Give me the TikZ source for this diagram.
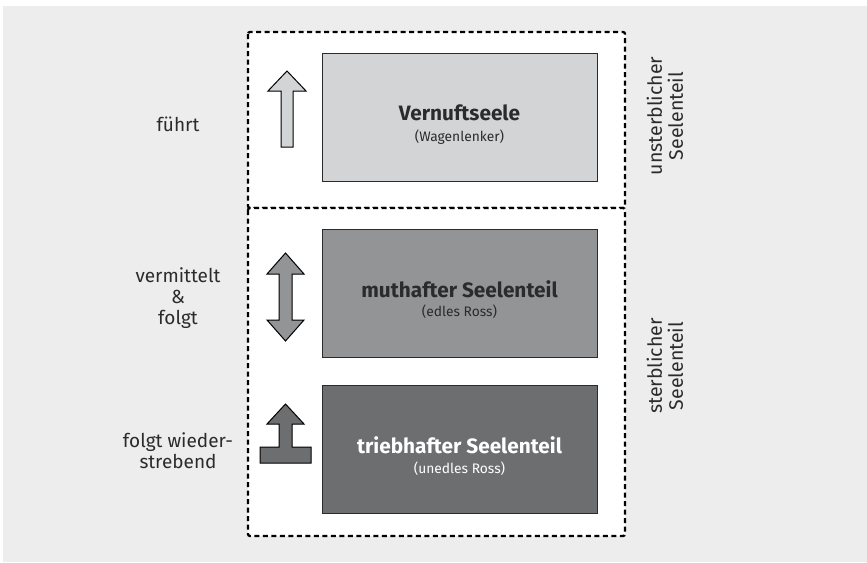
\documentclass[tikz,border=0pt]{standalone}
\usepackage{fontspec}
\setmainfont{Fira Sans}
\definecolor{bgc}{HTML}{EDEDED}
\definecolor{cone}{HTML}{D3D4D5}
\definecolor{ctwo}{HTML}{939496}
\definecolor{cthree}{HTML}{6D6E70}
\definecolor{ink}{HTML}{2B2B2B}
\tikzset{
  dashbox/.style={draw=black, fill=white, line width=2.3pt, dash pattern=on 5pt off 3.5pt, rounded corners=2pt},
  soulbox/.style={draw=ink, line width=0.9pt, minimum width=275pt, minimum height=128pt, inner sep=0pt},
  ttlnode/.style={inner sep=0pt, text=ink, font=\fontsize{20.8}{24}\selectfont\bfseries},
  sbtnode/.style={inner sep=0pt, text=ink, font=\fontsize{13.8}{16}\selectfont},
  arrowshape/.style={draw=black, line width=1pt, line join=miter},
  lbl/.style={align=center, text=ink, font=\fontsize{19}{21}\selectfont, inner sep=0pt},
  sidelbl/.style={align=center, text=ink, font=\fontsize{19.5}{21}\selectfont, inner sep=0pt, rotate=90},
}
\begin{document}
\begin{tikzpicture}[x=1pt,y=-1pt]
\useasboundingbox (0,0) rectangle (867,562);
\fill[bgc] (3,6) rectangle (867,562);
\draw[dashbox] (248,32) rectangle (625,208);
\draw[dashbox] (248,208) rectangle (625,536);
% soul boxes
\node[soulbox, fill=cone] (vern) at (459.5,117) {};
\node[soulbox, fill=ctwo] (mut) at (459.5,293) {};
\node[soulbox, fill=cthree] (trieb) at (459.5,449) {};
\node[ttlnode] (vernT) at ([yshift=4pt]vern.center) {Vernuftseele};
\node[sbtnode] (vernS) at ([yshift=-20pt]vern.center) {(Wagenlenker)};
\node[ttlnode] (mutT) at ([yshift=4pt]mut.center) {muthafter Seelenteil};
\node[sbtnode] (mutS) at ([yshift=-19pt]mut.center) {(edles Ross)};
\node[ttlnode, text=white] (triebT) at ([yshift=4pt]trieb.center) {triebhafter Seelenteil};
\node[sbtnode, text=white] (triebS) at ([yshift=-20pt]trieb.center) {(unedles Ross)};
% arrows
\draw[arrowshape, fill=cone] (281,147) -- (281,91) -- (268,91) -- (287,71) -- (306,91) -- (293,91) -- (293,147) -- cycle;
\draw[arrowshape, fill=ctwo] (285.5,253) -- (304,274) -- (292,274) -- (292,320) -- (304,320) -- (285.5,341) -- (267,320) -- (279,320) -- (279,274) -- (267,274) -- cycle;
\draw[arrowshape, fill=cthree] (285.5,404) -- (304,424) -- (292,424) -- (292,447) -- (311,447) -- (311,463) -- (260,463) -- (260,447) -- (279,447) -- (279,424) -- (267,424) -- cycle;
% labels
\node[lbl] (fuehrt) at (178,124) {führt};
\node[lbl] (verm) at (178,298) {vermittelt\\\&\\folgt};
\node[lbl] (folgt) at (178,451) {folgt wieder-\\strebend};
\node[sidelbl] (unst) at (665,116) {unsterblicher\\Seelenteil};
\node[sidelbl] (sterb) at (665,366) {sterblicher\\Seelenteil};
\end{tikzpicture}
\end{document}
